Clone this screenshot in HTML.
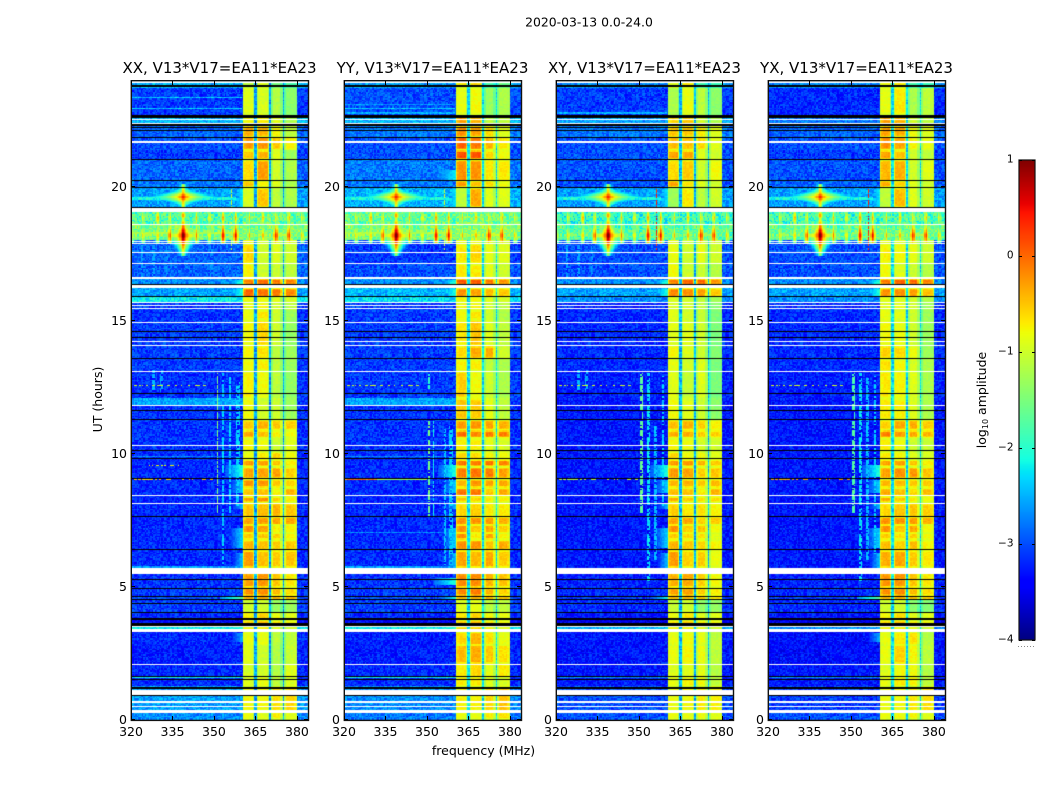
<!DOCTYPE html>
<html>
<head>
<meta charset="utf-8">
<title>2020-03-13 spectrograms</title>
<style>
html,body{margin:0;padding:0;background:#fff;width:1050px;height:800px;overflow:hidden}
#figure{position:relative;width:1050px;height:800px;background:#fff;font-family:"DejaVu Sans","Liberation Sans",sans-serif}
canvas{position:absolute;display:block}
svg{position:absolute;left:0;top:0}
text{font-family:"DejaVu Sans","Liberation Sans",sans-serif;fill:#000}
</style>
</head>
<body>
<div id="figure">
<svg id="overlay" width="1050" height="800" viewBox="0 0 1050 800">
<text x="589" y="26.5" text-anchor="middle" font-size="12.4">2020-03-13 0.0-24.0</text>
<text x="483.5" y="755" text-anchor="middle" font-size="12.5">frequency (MHz)</text>
<text transform="translate(102,399.5) rotate(-90)" text-anchor="middle" font-size="12.5">UT (hours)</text>
<text transform="translate(986,400) rotate(-90)" text-anchor="middle" font-size="12.5">log<tspan font-size="8" dy="2">10</tspan><tspan dy="-2"> amplitude</tspan></text>
<line x1="1018" y1="646.5" x2="1035" y2="646.5" stroke="#8a8a8a" stroke-width="1" stroke-dasharray="1 2"/>
</svg>
</div>
<script>
/* ---- chart data (log10 amplitude) ---- */
const panelTitles = ["XX, V13*V17=EA11*EA23","YY, V13*V17=EA11*EA23","XY, V13*V17=EA11*EA23","YX, V13*V17=EA11*EA23"];
const freqTicks = [320,335,350,365,380];
const hourTicks = [0,5,10,15,20];
const colorTicks = [1,0,-1,-2,-3,-4];

/* lower hour edge of each horizontal strip */
const stripStarts = [0,.29,1.23,1.6,2.09,2.8,3.29,3.51,3.74,4.04,4.48,4.62,4.94,5.69,6.36,6.74,7.0,7.3,7.6,8.13,8.35,8.69,9.03,9.48,9.75,10.04,10.56,10.86,11.24,12.06,13.07,13.53,14.02,14.99,15.36,15.66,15.85,16.19,16.3,16.56,17.09,17.84,18.0,18.57,19.2,19.94,20.2,20.99,21.36,21.85,22.26,22.67,23.72];

/* each strip: background, then the four sub-bands 360-365, 365-370, 370-375, 375-380 MHz */
const levelsXX = [
[-2.7,-.85,-.9,-.7,-.9],[-2.6,-.8,-.8,-.65,-.6],[-3.2,-.9,-.85,-1.1,-.95],[-3.2,-.95,-1,-1.15,-.9],[-3.25,-.9,-1,-1.15,-1.05],[-3.2,-.85,-.85,-1.1,-1.1],
[-2.2,-.8,-.7,-.9,-1],[-3.4,-.6,-.5,-.7,-.8],[-3.2,-.7,-.55,-.8,-.9],[-3.1,-1,-1,-1.3,-1.3],[-3,0,.05,0,-.1],[-3.1,-.2,-.2,-.45,-.6],[-3.15,-.3,-.25,-.5,-.7],
[-3.2,-.25,-.5,-.55,-.5],[-3.2,-.4,-.5,-.55,-.5],[-3.2,-.5,-.5,-.55,-.75],[-3.2,-.2,-.3,-.7,-.75],[-3.2,-.3,-.25,-.3,-.3],[-3.2,-.5,-.45,-.4,-.5],[-3.2,-.3,-.15,-.55,-.7],[-3.2,-.5,-.5,-.75,-.4],[-3.2,-.2,-.25,-.5,-.6],[-3.2,-.3,-.3,-.3,-.55],[-3.2,-.25,-.3,-.5,-.7],[-3.2,-.85,-.7,-.55,-.8],[-3.15,-.8,-.85,-1,-.9],[-3.15,-.3,-.5,-.75,-.8],[-3.15,-.5,-.4,-.5,-.55],[-3.15,-.8,-1,-1,-1.3],
[-3.15,-.75,-.8,-1.1,-1.35],[-3.1,-.8,-.75,-1.1,-1.3],[-3.1,-.75,-.65,-1.1,-1.3],[-3.1,-.8,-.6,-1,-1.35],[-3.15,-.85,-.7,-1,-1.3],[-3.1,-.8,-.8,-1,-1.1],[-2.2,-.75,-.8,-.9,-1],[-2.6,.05,-.05,-.1,-.15],[-2.6,.05,-.05,-.1,-.15],[-2.7,-.1,0,-.05,-.1],
[-2.9,-.75,-1,-1,-1.1],[-2.9,-.6,-1,-.9,-1],[-2.9,-.5,-1,-.9,-.9],[-1.55,-1.5,-1.5,-1.5,-1.5],[-1.8,-1.6,-1.6,-1.7,-1.7],[-2.6,-.95,-.5,-1.1,-1.2],[-2.8,-.5,-.8,-.9,-1.2],[-2.9,-.6,-.3,-1,-1.2],[-3.1,-.5,-.4,-.9,-1.3],[-3,-.25,-.25,-.5,-.75],[-2.9,-.35,-.4,-.75,-1.1],[-2.5,-.8,-.7,-.9,-1.2],[-3.1,-.9,-.95,-1.15,-1.4],[-2.5,-1.1,-.9,-1.5,-1.8]];
const levelsYY = [
[-2.8,-.85,-.85,-.7,-.65],[-2.7,-.75,-.75,-.6,-.5],[-3.2,-.7,-.7,-.9,-.95],[-3.2,-.7,-.6,-.85,-.7],[-3.25,-.45,-.35,-.5,-.65],[-3.25,-.6,-.4,-.65,-.85],
[-2.2,-.6,-.55,-.75,-.9],[-3.4,-.55,-.5,-.7,-.8],[-3.2,-.65,-.55,-.75,-.85],[-3.1,-.9,-.85,-1.1,-1.1],[-3,-.1,-.05,-.05,-.2],[-3.1,-.15,-.1,-.4,-.55],[-3.15,-.2,-.2,-.4,-.5],
[-3.2,-.3,-.45,-.35,-.55],[-3.2,-.2,-.25,-.5,-.35],[-3.2,-.15,-.7,-.3,-.75],[-3.2,-.2,-.5,-.3,-.55],[-3.2,-.2,-.2,-.25,-.35],[-3.2,-.6,-.55,-.7,-.7],[-3.2,-.5,-.55,-.7,-.7],[-3.2,-.05,-.1,-.5,-.35],[-3.2,-.4,-.25,-.3,-.35],[-3.2,-.1,-.05,-.1,-.3],[-3.2,-.05,-.1,-.05,-.1],[-3.2,-.6,-.6,-.75,-.8],[-3.15,-.75,-.75,-.85,-.95],[-3.15,0,-.2,-.1,-.1],[-3.15,-.25,-.25,-.3,-.4],[-3.15,-.5,-.55,-.85,-1.1],
[-3.1,-.55,-.8,-1,-1.2],[-3.1,-.75,-.75,-1.1,-1.2],[-3.1,-.6,-.35,-.35,-1],[-3.1,-.7,-.5,-.9,-1.1],[-3.1,-.8,-.7,-1,-1.2],[-3.1,-.75,-.8,-1,-1.1],[-2.3,-.7,-.75,-.9,-1],[-2.5,-.2,-.3,-.45,-.5],[-2.5,-.2,-.3,-.45,-.5],[-2.7,.15,.1,-.05,-.2],
[-3,-.7,-.7,-.85,-1],[-3.1,-.7,-.6,-.85,-.9],[-3,-.6,-.55,-.8,-.9],[-1.5,-1.4,-1.4,-1.4,-1.4],[-1.7,-1.5,-1.5,-1.6,-1.6],[-2.5,-1.1,-.35,-.9,-.9],[-2.8,-.25,-.5,-.6,-.8],[-2.8,-.2,-.25,-.7,-.7],[-3,.15,.1,-.6,-.8],[-3,.05,-.1,-.4,-.7],[-2.8,-.2,-.3,-.6,-.9],[-2.5,-.3,-.4,-1.1,-1.1],[-3,-.85,-.8,-1.3,-1.2],[-2.6,-.7,-.6,-1.8,-1.6]];
const levelsXY = [
[-3,-.85,-.85,-.8,-.9],[-3,-.85,-.8,-.7,-.75],[-3.3,-.85,-.75,-.8,-1.1],[-3.3,-.9,-.9,-.85,-1.15],[-3.3,-.85,-.75,-.8,-1.1],[-3.3,-.85,-.8,-.85,-1.1],
[-2.5,-.8,-.75,-.85,-1],[-3.5,-.7,-.6,-.75,-.8],[-3.3,-.8,-.65,-.85,-.9],[-3.2,-1.05,-1,-1.35,-1.35],[-3.1,-.15,-.1,-.2,-.5],[-3.2,-.3,-.3,-.55,-.7],[-3.25,-.4,-.35,-.55,-.8],
[-3.3,-.25,-.6,-.55,-.85],[-3.3,-.4,-.55,-.6,-.75],[-3.3,-.5,-.6,-.65,-.9],[-3.3,-.2,-.55,-.45,-.8],[-3.3,-.3,-.3,-.55,-.5],[-3.3,-.55,-.7,-.65,-.75],[-3.3,-.35,-.5,-.65,-.6],[-3.3,-.45,-.5,-.7,-.4],[-3.3,-.4,-.4,-.5,-.45],[-3.3,-.25,-.3,-.55,-.5],[-3.3,-.25,-.25,-.4,-.5],[-3.3,-.6,-.8,-.8,-.9],[-3.3,-.8,-.85,-.95,-1],[-3.3,-.35,-.4,-.55,-.55],[-3.3,-.45,-.4,-.55,-.75],[-3.3,-.8,-.9,-1,-1.4],
[-3.25,-.9,-1.05,-.9,-1.5],[-3.2,-.85,-1,-.9,-1.5],[-3.2,-.75,-.9,-1,-1.45],[-3.2,-.9,-.9,-1,-1.5],[-3.2,-.9,-1,-1.05,-1.5],[-3.2,-.9,-1,-1.1,-1.4],[-2.7,-.9,-1,-1.1,-1.3],[-2.6,-.15,-.2,-.3,-.5],[-2.6,-.15,-.2,-.3,-.5],[-2.7,-.1,.05,.05,-.2],
[-3,-.8,-1,-1,-1.15],[-3,-.85,-1,-.85,-1],[-3,-.7,-1,-.9,-1],[-1.75,-1.7,-1.7,-1.7,-1.7],[-2,-1.9,-1.9,-1.9,-1.9],[-2.6,-1.3,-.7,-1.1,-1],[-3,-.3,-.7,-.9,-1],[-3,-.6,-.55,-1,-.8],[-3,-.3,-.35,-.9,-1],[-3,-.45,-.5,-.6,-.9],[-2.8,-.5,-.5,-.7,-.9],[-2.6,-.6,-.5,-1,-1.2],[-3.1,-1.2,-.85,-1.1,-1.4],[-2.7,-.9,-.7,-1.8,-1.9]];
const levelsYX = [
[-3,-.85,-.8,-.75,-.9],[-3.1,-.85,-.8,-.7,-.65],[-3.3,-.85,-.7,-.75,-1.1],[-3.3,-.9,-.8,-.8,-1.15],[-3.35,-.85,-.55,-.75,-1.1],[-3.35,-.85,-.7,-.65,-1.15],
[-2.7,-.8,-.75,-.85,-1],[-3.5,-.65,-.55,-.75,-.8],[-3.3,-.75,-.6,-.85,-.9],[-3.2,-1,-1,-1.4,-1.45],[-3.1,-.05,0,-.1,-.25],[-3.2,-.2,-.2,-.45,-.6],[-3.25,-.25,-.25,-.5,-.7],
[-3.3,-.35,-.35,-.55,-.7],[-3.3,-.45,-.6,-.45,-.75],[-3.3,-.5,-.65,-.55,-.8],[-3.3,-.2,-.5,-.3,-.8],[-3.3,-.2,-.2,-.25,-.35],[-3.3,-.6,-.5,-.5,-.55],[-3.3,-.35,-.5,-.7,-.8],[-3.3,-.35,-.5,-.6,-.45],[-3.3,-.4,-.45,-.5,-.55],[-3.3,-.3,-.2,-.25,-.5],[-3.3,-.3,-.3,-.5,-.7],[-3.3,-.7,-.75,-.9,-.95],[-3.3,-.75,-.85,-1,-1.05],[-3.3,-.1,-.3,-.35,-.4],[-3.3,-.55,-.35,-.35,-.55],[-3.3,-.7,-.75,-.9,-1.2],
[-3.25,-.7,-.75,-.9,-1.2],[-3.2,-.65,-.8,-.95,-1.2],[-3.2,-.55,-.6,-.8,-1.3],[-3.2,-.8,-.85,-1,-1.3],[-3.2,-.85,-.9,-1,-1.3],[-3.15,-.85,-.9,-1,-1.25],[-2.7,-.85,-.9,-1,-1.2],[-2.6,-.2,-.2,-.3,-.45],[-2.6,-.2,-.2,-.3,-.45],[-2.7,-.05,.05,.05,-.1],
[-3,-.8,-.9,-1,-1.15],[-3,-.75,-.8,-.85,-1],[-3,-.7,-.8,-.85,-1],[-1.65,-1.6,-1.6,-1.6,-1.6],[-1.9,-1.8,-1.8,-1.8,-1.8],[-2.6,-1.1,-.45,-.9,-1],[-2.9,-.35,-.6,-.9,-1],[-3,-.4,-.4,-1,-.9],[-3.1,-.3,-.5,-1,-1.1],[-3,-.2,-.35,-.75,-.85],[-2.9,-.3,-.35,-.8,-.9],[-2.8,-.3,-.4,-1,-1.1],[-3.2,-.85,-.7,-1.2,-1.1],[-2.7,-.8,-.7,-1.8,-1.9]];
const panelLevels = [levelsXX,levelsYY,levelsXY,levelsYX];

/* sub-band boundaries and the narrow dark notches between them */
const subBandEdges = [360.4,365,370.3,375.1,380];
const notchFreqs = [365.0,370.3,375.1];
const notchLevel = [-2.6,-2.3,-2.5,-2.3];

/* flagged time ranges [from hour, to hour] */
const flaggedWhite = [[23.86,24],[22.5,22.54],[22.35,22.39],[21.64,21.68],[19.03,19.19],[18.55,18.59],[17.92,17.96],[17.84,17.89],[17.5,17.54],[17.09,17.13],[16.51,16.59],[16.2,16.29],[15.61,15.67],[15.51,15.55],[15.39,15.43],[14.86,14.92],[14.15,14.19],[14.01,14.05],[13.04,13.08],[11.76,11.8],[10.26,10.3],[8.38,8.42],[8.09,8.13],[5.46,5.68],[3.49,3.53],[3.3,3.39],[2.05,2.09],[.93,1.11],[.64,.69],[.48,.53],[.26,.35]];
const flaggedBlack = [[23.74,23.78],[22.55,22.67],[22.26,22.34],[22.2,22.23],[22.07,22.11],[21.82,21.86],[20.97,21.03],[20.18,20.22],[19.92,19.96],[19.18,19.22],[16.3,16.34],[15.85,15.89],[14.53,14.57],[14.32,14.36],[13.51,13.55],[12.22,12.26],[11.56,11.6],[11.25,11.29],[10.07,10.11],[9.76,9.8],[9.02,9.06],[7.59,7.63],[6.37,6.41],[5.67,5.7],[5.24,5.28],[4.91,4.95],[4.59,4.63],[4.47,4.51],[4.32,4.36],[4.0,4.04],[3.75,3.8],[3.6,3.64],[3.53,3.57],[1.61,1.65],[1.5,1.54],[1.14,1.24],[.89,.93]];

/* horizontal interference: from hour, to hour, from MHz, to MHz, level, panel mask (1 XX,2 YY,4 XY,8 YX), dotted */
const horizontalRfi = [
[23.3,23.35,320,360,-2.4,1,0],[22.9,22.95,320,360,-2.4,3,0],[23.05,23.12,320,360,-2.6,2,0],[22.72,22.8,320,360,-2.5,6,0],
[11.8,12.06,320,360.4,-2.55,3,0],[1.55,1.6,320,360.4,-2.2,3,0],[1.55,1.58,320,360.4,-2.7,12,0],
[12.52,12.57,320,347,-1.1,15,1],[9.52,9.57,326,338,-.9,1,1],[9.0,9.04,320,350,-.7,1,1],[9.0,9.04,320,332,-.1,2,0],[9.0,9.04,332,350,-1.2,2,0],[9.0,9.04,320,350,-.5,8,1],[9.0,9.04,320,350,-1.2,4,1],
[7.0,7.05,320,356,-2.7,2,0],[5.7,5.75,320,360,-2.6,3,0],[10.58,10.62,320,360,-2.7,1,0],[9.86,9.9,320,360,-2.7,3,0],[7.62,7.66,320,360,-2.6,3,0],
[19.52,19.6,320,358,-2.1,15,0],[18.22,18.3,320,358,-1.2,3,0],[16.25,16.3,320,360,-2.5,3,0]];

/* vertical interference: MHz, from hour, to hour, level, panel mask */
const verticalRfi = [
[351.2,7.7,13,-1.5,1],[353.3,5.7,13,-2.4,1],[355.9,7.7,12.9,-2.4,1],[358.5,8,12.5,-2.4,1],[359.4,9,12.7,-2.4,1],
[350.8,7.6,11.2,-1.6,2],[352.3,7.6,11.2,-2.2,2],[350.8,12.4,13,-2,2],[356.5,5.8,10.9,-2.4,2],[358.5,5.8,11,-2.4,2],[359.2,5.8,11,-2.4,2],
[351,7.7,13,-1.7,4],[353.5,5.2,13,-2.3,4],[356,6,11,-2.5,4],[358.9,8,12.9,-2.4,4],
[351,7.7,13,-1.8,8],[353.5,5.2,13,-2.3,8],[356,6,12.8,-2.5,8],[358.9,6,12.9,-2.4,8],
[356.2,17.6,19.95,-1.1,3],[356.2,17.6,19.95,.3,12],
[324,15.9,17.8,-2.6,5],[328,15.9,17.8,-2.6,5],[333,15.9,17.8,-2.7,5],[349,16.6,17.8,-2.7,1],[328,12.3,13.1,-2.5,5],[331,12.3,13.1,-2.6,5]];

/* shoulder next to the band: from MHz, to MHz (brightest edge), from hour, to hour, level, panel mask */
const bandShoulders = [
[354,360.4,9.1,9.55,-2,15],[356,360.4,5.72,6.25,-2.4,15],[356,360.4,7.9,8.1,-2.4,15],[355,360.4,6.45,7.2,-2.3,15],[355,360.4,8.5,9,-2.3,15],
[350,360.4,20.2,20.6,-2.2,2],[356,360.4,19.2,19.9,-2.2,15],[352,360.4,4.5,4.6,-1.7,9],[352,360.4,5.05,5.3,-2,2],[354,360.4,4.5,4.6,-2.1,6],
[355,360.4,2.9,3.25,-2.5,9],[355,360.4,15.9,16.15,-2,15],[354,360.4,16.3,16.5,-2,15],[350,360.4,3.3,3.5,-2,3]];

/* bright interference bursts: MHz, hour, peak, fall per sqrt(MHz), fall per hour */
const mainBursts = [[338.9,19.6,.9,.95,7],[338.9,19.6,.7,2,2.5],[338.9,18.15,.9,.95,7.5],[338.9,18.15,1.8,1.7,3.5],[338.9,18.9,.5,1.8,6]];
const combFreqs = [320,324.4,329.6,334.1,343.7,348.5,353.3,357.9,362.7,367.8,372.4,377.1,381.9];
const combLowerPeaks = [.2,-.3,-.3,.4,.1,-.3,.6,.9,-.2,-.3,.7,.6,-.2];
const combUpperPeaks = [-.5,-.4,-.1,-.3,-.3,-.3,-.2,0,-.4,-.4,-.3,-.1,-.4];

/* typed texture offsets giving the receiver-noise speckle (appearance, not read cell by cell) */
const speckle = [.62,-.81,.14,.93,-.37,.48,-.95,.27,-.12,.76,-.58,.05,.88,-.69,.33,-.24,.57,-.9,.19,.71,-.46,-.03,.84,-.75,.41,-.17,.66,-.99,.09,.52,-.31,.97,-.63,.23,-.08,.79,-.54,.36,-.86,.12,.6,-.41,.91,-.22,-.72,.45,.02,-.6,.83,-.15,.3,-.92,.68,-.35,.17,.55,-.78,.99,-.06,-.5,.39,-.84,.73,.08,-.28,.5,-.97,.25,.86,-.66,-.11,.43,-.52,.95,-.33,.2,-.88,.64,-.01,.35,-.74,.81,-.19,-.44,.58,.11,-.93,.7,-.26,.47,-.57,.89,-.39,.16,-.7,.29,-.1];

/* ---- scales ---- */
const panelLefts = [131,344,556,768];
const plotWidth = 177, plotTop = 81, plotBottom = 720;
const freqLo = 320, freqHi = 384, channels = 128, rows = 480;
function xScale(f, left){ return left + (f - freqLo) / (freqHi - freqLo) * plotWidth; }
function yScale(h){ return 719.7 - h * 26.67; }
function lerp(t, a, b, va, vb){ return va + (t - a) / (b - a) * (vb - va); }
function jet(v){
  const t = Math.max(0, Math.min(1, (v + 4) / 5));
  const r = t < .35 ? 0 : t < .66 ? lerp(t,.35,.66,0,1) : t < .89 ? 1 : lerp(t,.89,1,1,.5);
  const g = t < .125 ? 0 : t < .375 ? lerp(t,.125,.375,0,1) : t < .64 ? 1 : t < .91 ? lerp(t,.64,.91,1,0) : 0;
  const b = t < .11 ? lerp(t,0,.11,.5,1) : t < .34 ? 1 : t < .65 ? lerp(t,.34,.65,1,0) : 0;
  return 'rgb(' + Math.round(r*255) + ',' + Math.round(g*255) + ',' + Math.round(b*255) + ')';
}
function stripIndex(h){
  let s = 0;
  for (let i = 0; i < stripStarts.length; i++) { if (h >= stripStarts[i]) s = i; }
  return s;
}
function cellValue(p, h, f, c, r, si){
  const bit = 1 << p;
  const row = panelLevels[p][si];
  const inBand = f >= 360.4 && f < 380;
  const comb = h >= 17.99 && h < 19.04;
  let v = !inBand ? row[0] : f < 365 ? row[1] : f < 370.3 ? row[2] : f < 375.1 ? row[3] : row[4];
  /* hot blocks fade to yellow at their strip and sub-band edges */
  if (inBand && !comb && v > -.95) {
    let dF = 99;
    for (const e of subBandEdges) dF = Math.min(dF, Math.abs(f - e));
    const stripEnd = si + 1 < stripStarts.length ? stripStarts[si + 1] : 24;
    const dH = Math.min(h - stripStarts[si], stripEnd - h);
    const fade = Math.min(1, dF / 1.0) * Math.min(1, dH / .08);
    v = -.95 + (v + .95) * fade;
  }
  const n = speckle[(3*c*c + 5*c*r + 7*r*r + c + 2*r) % speckle.length];
  let amp = inBand ? .1 : .3;
  if (comb) amp = .5;
  v += n * amp;
  if (inBand && !comb) {
    for (const nf of notchFreqs) {
      const d = Math.abs(f - nf);
      if (d < .35) v = notchLevel[p] + n * .3;
      else if (d < 1) v -= .3;
    }
  }
  for (const b of horizontalRfi) {
    if ((b[5] & bit) && h >= b[0] && h < b[1] && f >= b[2] && f < b[3] && (!b[6] || n > .1)) v = Math.max(v, b[4] + n * .25);
  }
  for (const l of verticalRfi) {
    if ((l[4] & bit) && h >= l[1] && h < l[2] && Math.abs(f - l[0]) < .3 && n > -.5) v = Math.max(v, l[3] + n * .2);
  }
  for (const s of bandShoulders) {
    if ((s[5] & bit) && h >= s[2] && h < s[3] && f >= s[0] && f < s[1]) {
      v = Math.max(v, s[4] - (s[1] - f) / (s[1] - s[0]) + n * .12);
    }
  }
  if (h > 17.4 && h < 20.1) {
    for (const m of mainBursts) {
      v = Math.max(v, m[2] - m[3] * Math.sqrt(Math.abs(f - m[0])) - m[4] * Math.abs(h - m[1]));
    }
    if (h > 17.85 && h < 19.04) {
      for (let i = 0; i < combFreqs.length; i++) {
        const d = Math.abs(f - combFreqs[i]);
        v = Math.max(v, combLowerPeaks[i] - 1.8 * d - 3.2 * Math.abs(h - 18.15));
        v = Math.max(v, combUpperPeaks[i] - 2 * d - 3.5 * Math.abs(h - 18.82));
      }
    }
  }
  return v;
}

/* ---- draw heatmaps ---- */
const figure = document.getElementById('figure');
const overlay = document.getElementById('overlay');
const SVGNS = 'http://www.w3.org/2000/svg';
function svgEl(tag, attrs){
  const el = document.createElementNS(SVGNS, tag);
  for (const k in attrs) el.setAttribute(k, attrs[k]);
  return el;
}
panelLefts.forEach(function(left, p){
  const cv = document.createElement('canvas');
  
  
  cv.width = plotWidth;
  cv.height = plotBottom - plotTop;
  cv.style.left = left + 'px';
  cv.style.top = plotTop + 'px';
  figure.insertBefore(cv, overlay);
  const ctx = cv.getContext('2d');
  ctx.fillStyle = '#fff';
  ctx.fillRect(0, 0, cv.width, cv.height);
  const rowDur = 24 / rows;
  const chanW = (freqHi - freqLo) / channels;
  for (let r = 0; r < rows; r++) {
    const hLo = r * rowDur;
    const hMid = hLo + rowDur / 2;
    const y1 = Math.round(yScale(hLo)) - plotTop;
    const y0 = Math.round(yScale(hLo + rowDur)) - plotTop;
    if (y1 <= y0) continue;
    const si = stripIndex(hMid);
    for (let c = 0; c < channels; c++) {
      const fLo = freqLo + c * chanW;
      const x0 = Math.round(xScale(fLo, 0));
      const x1 = Math.round(xScale(fLo + chanW, 0));
      if (x1 <= x0) continue;
      ctx.fillStyle = jet(cellValue(p, hMid, fLo + chanW / 2, c, r, si));
      ctx.fillRect(x0, y0, x1 - x0, y1 - y0);
    }
  }
  function paintFlags(list, color){
    ctx.fillStyle = color;
    for (const g of list) {
      const y0 = Math.round(yScale(g[1])) - plotTop;
      const y1 = Math.round(yScale(g[0])) - plotTop;
      ctx.fillRect(0, y0, cv.width, Math.max(1, y1 - y0));
    }
  }
  paintFlags(flaggedBlack, '#000');
  paintFlags(flaggedWhite, '#fff');

  /* ---- frame, ticks, labels ---- */
  const frame = svgEl('rect', {x:left+.3, y:plotTop-.3, width:plotWidth+.2, height:plotBottom-plotTop+.7, fill:'none', stroke:'#111', 'stroke-width':1.4});
  
  
  overlay.appendChild(frame);

  const title = svgEl('text', {x:left + plotWidth/2, y:73, 'text-anchor':'middle', 'font-size':15});
  
  
  title.textContent = panelTitles[p];
  overlay.appendChild(title);

  freqTicks.forEach(function(tick){
    const x = Math.round(xScale(tick, left)) + .5;
    const bottomTick = svgEl('line', {x1:x, x2:x, y1:plotBottom, y2:plotBottom-4, stroke:'#000'});
    
    
    overlay.appendChild(bottomTick);
    const topTick = svgEl('line', {x1:x, x2:x, y1:plotTop, y2:plotTop+4, stroke:'#000'});
    
    
    overlay.appendChild(topTick);
    const label = svgEl('text', {x:xScale(tick, left), y:736, 'text-anchor':'middle', 'font-size':12.5});
    
    
    label.textContent = tick;
    overlay.appendChild(label);
  });
  hourTicks.forEach(function(tick){
    const y = Math.round(yScale(tick)) + .5 - (tick === 0 ? 1 : 0);
    const leftTick = svgEl('line', {x1:left, x2:left+4, y1:y, y2:y, stroke:'#000'});
    
    
    overlay.appendChild(leftTick);
    const rightTick = svgEl('line', {x1:left+plotWidth, x2:left+plotWidth-4, y1:y, y2:y, stroke:'#000'});
    
    
    overlay.appendChild(rightTick);
    const label = svgEl('text', {x:left-4, y:y+4.5, 'text-anchor':'end', 'font-size':12.5});
    
    
    label.textContent = tick;
    overlay.appendChild(label);
  });
});

/* ---- colorbar ---- */
const barLeft = 1019, barWidth = 16, barTop = 160, barBottom = 640;
function colorScale(v){ return barBottom - (v + 4) / 5 * (barBottom - barTop); }
const bar = document.createElement('canvas');


bar.width = barWidth;
bar.height = barBottom - barTop;
bar.style.left = barLeft + 'px';
bar.style.top = barTop + 'px';
figure.insertBefore(bar, overlay);
const barCtx = bar.getContext('2d');
for (let y = 0; y < bar.height; y++) {
  barCtx.fillStyle = jet(1 - (y + .5) / bar.height * 5);
  barCtx.fillRect(0, y, barWidth, 1);
}
const barFrame = svgEl('rect', {x:barLeft, y:barTop, width:barWidth, height:barBottom-barTop, fill:'none', stroke:'#111', 'stroke-width':1.2});


overlay.appendChild(barFrame);
colorTicks.forEach(function(tick){
  const y = Math.round(colorScale(tick)) + .5;
  const tickL = svgEl('line', {x1:barLeft, x2:barLeft+3, y1:y, y2:y, stroke:'#000'});
  
  
  overlay.appendChild(tickL);
  const tickR = svgEl('line', {x1:barLeft+barWidth, x2:barLeft+barWidth-3, y1:y, y2:y, stroke:'#000'});
  
  
  overlay.appendChild(tickR);
  const label = svgEl('text', {x:1013.5, y:y+2, 'text-anchor':'end', 'font-size':10.5});
  
  
  label.textContent = String(tick).replace('-', '\u2212');
  overlay.appendChild(label);
});
</script>
</body>
</html>
